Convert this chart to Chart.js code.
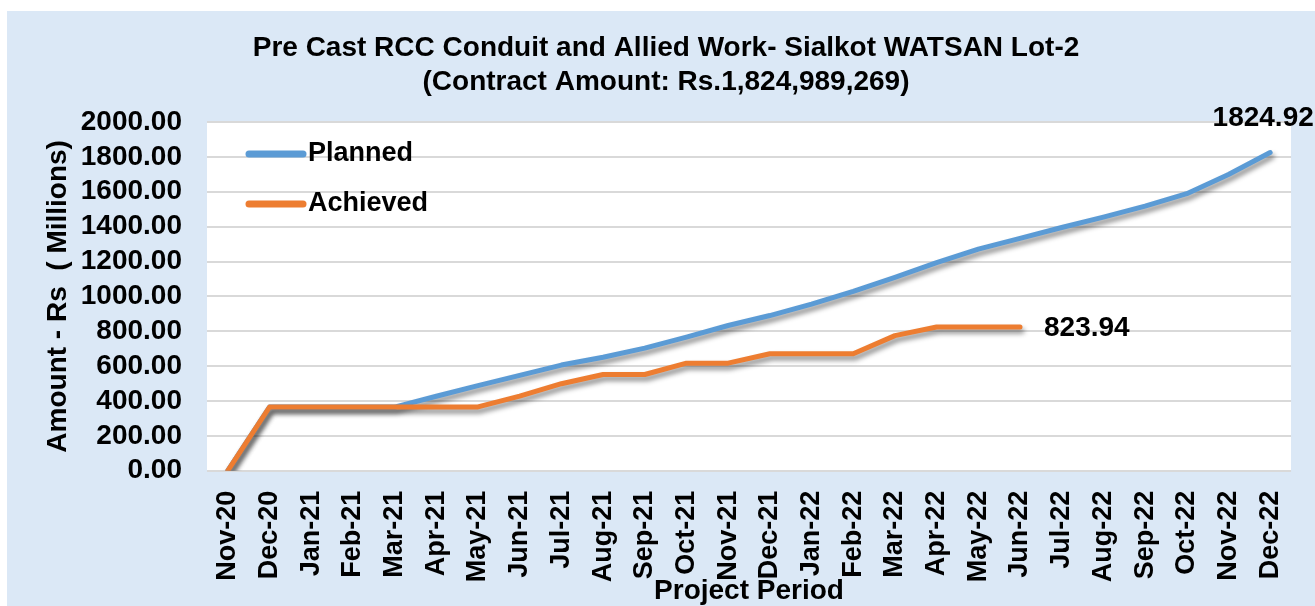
<!DOCTYPE html>
<html>
<head>
<meta charset="utf-8">
<title>Pre Cast RCC Conduit and Allied Work- Sialkot WATSAN Lot-2</title>
<script src="https://cdn.jsdelivr.net/npm/chart.js@4.4.1/dist/chart.umd.min.js"></script>
<style>
  html, body { margin: 0; padding: 0; background: #ffffff; }
  #wrap { position: relative; width: 1315px; height: 606px; }
</style>
</head>
<body>
<div id="wrap"><canvas id="progressChart"></canvas></div>
<script>
// Monthly progress, amounts in Rs millions
const months = [
  'Nov-20', 'Dec-20', 'Jan-21', 'Feb-21', 'Mar-21', 'Apr-21', 'May-21', 'Jun-21',
  'Jul-21', 'Aug-21', 'Sep-21', 'Oct-21', 'Nov-21', 'Dec-21', 'Jan-22', 'Feb-22',
  'Mar-22', 'Apr-22', 'May-22', 'Jun-22', 'Jul-22', 'Aug-22', 'Sep-22', 'Oct-22',
  'Nov-22', 'Dec-22'
];

const plannedValues = [
  0, 365, 365, 365, 365, 427, 488, 547, 606, 651, 703, 766, 833,
  890, 956, 1029, 1109, 1194, 1271, 1333, 1395, 1455, 1518, 1589, 1699, 1824.92
];

// achieved only reported up to Jun-22
const achievedValues = [
  0, 365, 365, 365, 365, 366, 366, 428, 499, 552, 552, 617, 617,
  671, 671, 671, 775, 823.94, 823.94, 823.94
];

const seriesNames = ['Planned', 'Achieved'];
const titleLines = [
  'Pre Cast RCC Conduit and Allied Work- Sialkot WATSAN Lot-2',
  '(Contract Amount: Rs.1,824,989,269)'
];

const FONT = '"Liberation Sans", Arial, sans-serif';
const BLUE = '#5b9bd5';
const ORANGE = '#ed7d31';

// light blue page behind a white plot area
const backgroundPlugin = {
  id: 'pageBackground',
  beforeDraw(chart) {
    const { ctx, width, height, chartArea } = chart;
    ctx.save();
    ctx.fillStyle = '#ffffff';
    ctx.fillRect(0, 0, width, height);
    ctx.fillStyle = '#dbe8f6';
    ctx.fillRect(7, 11, width - 7, height - 11);
    ctx.fillStyle = '#ffffff';
    ctx.fillRect(chartArea.left, chartArea.top,
      chartArea.right - chartArea.left, chartArea.bottom - chartArea.top);
    ctx.restore();
  }
};

// soft drop shadow under the lines, like the Excel original
const lineShadowPlugin = {
  id: 'lineShadow',
  beforeDatasetDraw(chart) {
    const ctx = chart.ctx;
    ctx.save();
    ctx.shadowColor = 'rgba(0, 0, 0, 0.45)';
    ctx.shadowBlur = 5;
    ctx.shadowOffsetX = 2;
    ctx.shadowOffsetY = 4;
  },
  afterDatasetDraw(chart) {
    chart.ctx.restore();
  }
};

// legend drawn inside the plot area, top-left
const insideLegendPlugin = {
  id: 'insideLegend',
  afterDraw(chart) {
    const { ctx, chartArea } = chart;
    const items = [
      { text: seriesNames[0], color: BLUE, y: chartArea.top + 32 },
      { text: seriesNames[1], color: ORANGE, y: chartArea.top + 82 }
    ];
    ctx.save();
    ctx.font = 'bold 27px ' + FONT;
    ctx.textBaseline = 'middle';
    ctx.textAlign = 'left';
    items.forEach(item => {
      ctx.strokeStyle = item.color;
      ctx.lineWidth = 7;
      ctx.lineCap = 'round';
      ctx.beginPath();
      ctx.moveTo(chartArea.left + 42, item.y);
      ctx.lineTo(chartArea.left + 96, item.y);
      ctx.stroke();
      ctx.fillStyle = '#000000';
      ctx.fillText(item.text, chartArea.left + 101, item.y);
    });
    ctx.restore();
  }
};

// end-of-line value labels
const endLabelPlugin = {
  id: 'endLabels',
  afterDraw(chart) {
    const ctx = chart.ctx;
    ctx.save();
    ctx.font = 'bold 28px ' + FONT;
    ctx.fillStyle = '#000000';
    ctx.textBaseline = 'middle';

    const plannedMeta = chart.getDatasetMeta(0);
    const lastPlanned = plannedMeta.data[plannedValues.length - 1];
    ctx.textAlign = 'center';
    ctx.fillText(plannedValues[plannedValues.length - 1].toFixed(2), lastPlanned.x - 7, lastPlanned.y - 34);

    const achievedMeta = chart.getDatasetMeta(1);
    const lastAchieved = achievedMeta.data[achievedValues.length - 1];
    ctx.textAlign = 'left';
    ctx.fillText(achievedValues[achievedValues.length - 1].toFixed(2), lastAchieved.x + 24, lastAchieved.y + 1);
    ctx.restore();
  }
};

const progressChart = new Chart(document.getElementById('progressChart'), {
  type: 'line',
  data: {
    labels: months,
    datasets: [{
      label: seriesNames[0],
      data: plannedValues,
      borderColor: BLUE,
      backgroundColor: BLUE,
      borderWidth: 5,
      borderCapStyle: 'round',
      borderJoinStyle: 'round',
      pointRadius: 0,
      tension: 0,
      order: 1
    }, {
      label: seriesNames[1],
      data: achievedValues,
      borderColor: ORANGE,
      backgroundColor: ORANGE,
      borderWidth: 5,
      borderCapStyle: 'round',
      borderJoinStyle: 'round',
      pointRadius: 0,
      tension: 0,
      order: 0
    }]
  },
  options: {
    responsive: true,
    maintainAspectRatio: false,
    animation: false,
    layout: {
      padding: { top: 0, left: 39, right: 22, bottom: 0 }
    },
    scales: {
      x: {
        offset: true,
        grid: { display: false },
        border: { display: false },
        ticks: {
          autoSkip: false,
          minRotation: 90,
          maxRotation: 90,
          padding: 12,
          color: '#000000',
          font: { family: FONT, size: 27, weight: 'bold' }
        },
        title: {
          display: true,
          text: 'Project Period',
          color: '#000000',
          font: { family: FONT, size: 28, weight: 'bold', lineHeight: 1 },
          padding: { top: 0, bottom: 1 }
        },
        afterFit(scale) { scale.height = 135.3; }
      },
      y: {
        min: 0,
        max: 2000,
        grid: {
          color: '#d9d9d9',
          lineWidth: 2,
          drawTicks: false
        },
        border: { display: false },
        ticks: {
          stepSize: 200,
          autoSkip: false,
          padding: 25,
          color: '#000000',
          font: { family: FONT, size: 28, weight: 'bold' },
          callback: value => Number(value).toFixed(2)
        },
        title: {
          display: true,
          text: 'Amount - Rs  ( Millions)',
          color: '#000000',
          font: { family: FONT, size: 28, weight: 'bold', lineHeight: 1.2 },
          padding: { top: 2, bottom: 0 }
        },
        afterFit(scale) { scale.width = 168; }
      }
    },
    plugins: {
      legend: { display: false },
      tooltip: { enabled: false },
      title: {
        display: true,
        text: titleLines,
        color: '#000000',
        font: { family: FONT, size: 28, weight: 'bold', lineHeight: 1.19 },
        padding: { top: 32, bottom: 23.4 }
      }
    }
  },
  plugins: [backgroundPlugin, lineShadowPlugin, insideLegendPlugin, endLabelPlugin]
});
</script>
</body>
</html>
